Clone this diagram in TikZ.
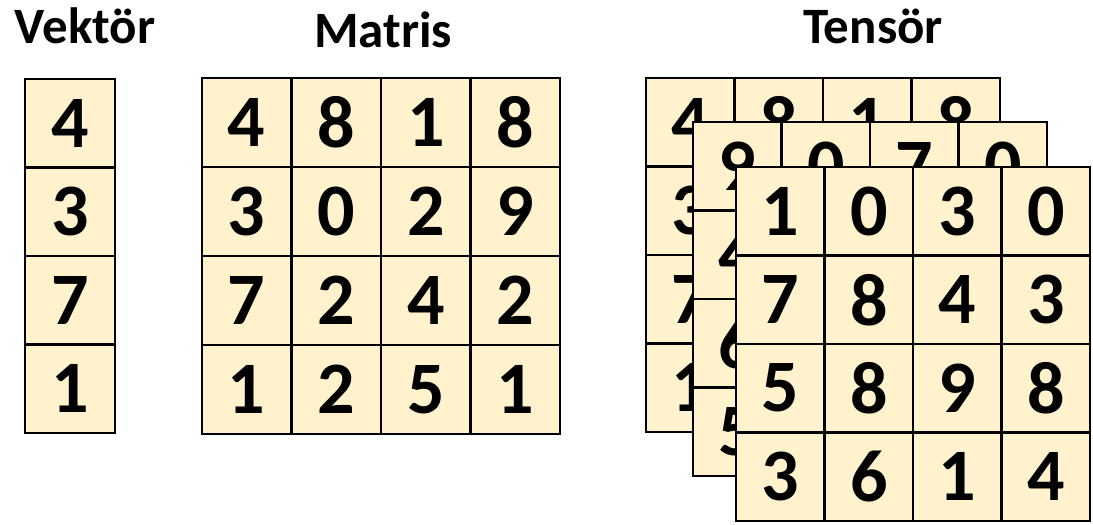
\documentclass[tikz,border=0pt]{standalone}
\usepackage{fontspec}
\setmainfont{Carlito}
\definecolor{cellfill}{RGB}{255,242,204}

\begin{document}
\begin{tikzpicture}[x=1pt, y=-1pt,
  cell/.style={draw=black, fill=cellfill, line width=2.4pt, inner sep=0pt,
               minimum width=88.5pt, minimum height=88.5pt,
               font=\fontsize{74}{74}\selectfont\bfseries},
  title/.style={font=\fontsize{51}{51}\selectfont\bfseries, anchor=base}]
  \useasboundingbox (0,0) rectangle (1093,525);

  % headings
  \node[title] (tvec) at (85,43) {Vektör};
  \node[title] (tmat) at (383,47) {Matris};
  \node[title] (tten) at (873,43) {Tensör};

  % vector
  \foreach \d [count=\r] in {4,3,7,1}
    \node[cell, minimum width=90pt] (v-\r) at (70,{79+88.5*(\r-0.5)}) {\d};

  % matrix
  \foreach \row [count=\r] in {{4,8,1,8},{3,0,2,9},{7,2,4,2},{1,2,5,1}}
    \foreach \d [count=\c] in \row
      \node[cell, minimum width=89.5pt] (m-\r-\c) at ({202+89.5*(\c-0.5)},{78+89*(\r-0.5)}) {\d};

  % tensor, back to front
  \foreach \row [count=\r] in {{4,8,1,8},{3,{},{},{}},{7,{},{},{}},{1,{},{},{}}}
    \foreach \d [count=\c] in \row
      \node[cell] (a-\r-\c) at ({646+88.5*(\c-0.5)},{78+88.5*(\r-0.5)}) {\d};
  \foreach \row [count=\r] in {{9,0,7,0},{4,{},{},{}},{6,{},{},{}},{5,{},{},{}}}
    \foreach \d [count=\c] in \row
      \node[cell] (b-\r-\c) at ({693+88.5*(\c-0.5)},{122+88.5*(\r-0.5)}) {\d};
  \foreach \row [count=\r] in {{1,0,3,0},{7,8,4,3},{5,8,9,8},{3,6,1,4}}
    \foreach \d [count=\c] in \row
      \node[cell] (c-\r-\c) at ({736+88.5*(\c-0.5)},{167+88.5*(\r-0.5)}) {\d};
\end{tikzpicture}
\end{document}
